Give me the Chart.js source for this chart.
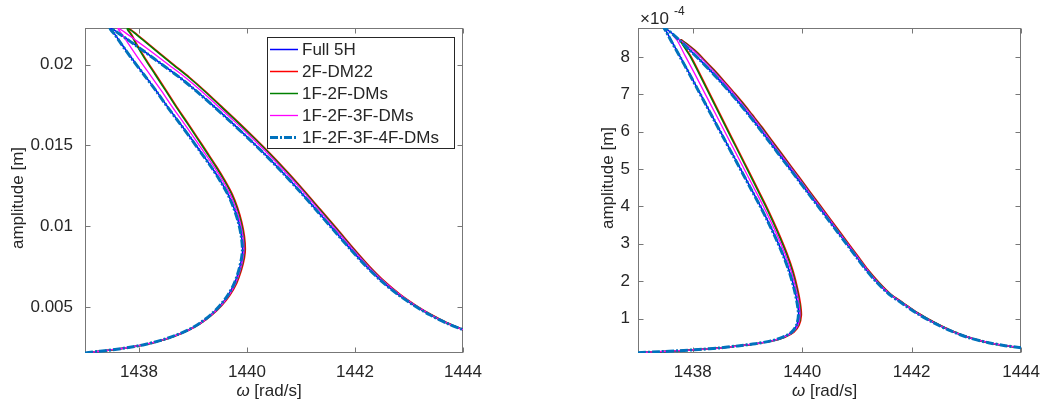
<!DOCTYPE html>
<html>
<head>
<meta charset="utf-8">
<script src="https://cdn.jsdelivr.net/npm/chart.js@4"></script>
<style>
  body { margin: 0; background: #fff; }
  #wrap { position: relative; width: 1049px; height: 407px; overflow: hidden; }
  canvas { position: absolute; top: 0; }
  #left { left: 0; }
  #right { left: 520px; }
</style>
</head>
<body>
<div id="wrap">
  <canvas id="left" width="500" height="407"></canvas>
  <canvas id="right" width="529" height="407"></canvas>
</div>
<script>
const seriesNames = ['Full 5H', '2F-DM22', '1F-2F-DMs', '1F-2F-3F-DMs', '1F-2F-3F-4F-DMs']

// left panel, amplitude in m (same amplitude levels for every series)
// order: lower branch -> turning point -> middle branch -> peak -> upper branch
const ampLeft = [0.002164, 0.002269, 0.002380, 0.002515, 0.002688, 0.002922, 0.003231, 0.003570, 0.004001, 0.004525,
  0.005080, 0.005727, 0.006467, 0.007269, 0.008039, 0.008594,
  0.009396, 0.010259, 0.011122, 0.011985, 0.012848, 0.013711, 0.014575, 0.015438, 0.016363, 0.017349,
  0.018397, 0.019383, 0.020370, 0.021233, 0.021850, 0.022158, 0.022250,
  0.021973, 0.021449, 0.020740, 0.019969, 0.019199, 0.018335, 0.017411, 0.016455, 0.015469, 0.014451,
  0.013372, 0.012232, 0.011030, 0.009827, 0.008625, 0.007546, 0.006591, 0.005789, 0.005111, 0.004525,
  0.004032, 0.003600]
const wLeftFull = [1437.000, 1437.278, 1437.556, 1437.833, 1438.111, 1438.389, 1438.667, 1438.907, 1439.130, 1439.333,
  1439.500, 1439.648, 1439.769, 1439.852, 1439.904, 1439.920,
  1439.898, 1439.843, 1439.759, 1439.648, 1439.500, 1439.333, 1439.148, 1438.963, 1438.759, 1438.537,
  1438.315, 1438.093, 1437.870, 1437.685, 1437.556, 1437.481, 1437.472,
  1437.611, 1437.833, 1438.130, 1438.444, 1438.759, 1439.074, 1439.389, 1439.704, 1440.019, 1440.333,
  1440.648, 1440.963, 1441.278, 1441.593, 1441.907, 1442.204, 1442.500, 1442.796, 1443.093, 1443.389,
  1443.685, 1444.000]
const wLeftDM22 = [1437.000, 1437.278, 1437.556, 1437.838, 1438.121, 1438.399, 1438.682, 1438.927, 1439.150, 1439.358,
  1439.530, 1439.683, 1439.809, 1439.897, 1439.954, 1439.970,
  1439.953, 1439.903, 1439.829, 1439.728, 1439.590, 1439.433, 1439.263, 1439.093, 1438.909, 1438.707,
  1438.505, 1438.313, 1438.120, 1437.965, 1437.866, 1437.801, 1437.802,
  1437.921, 1438.113, 1438.370, 1438.654, 1438.939, 1439.234, 1439.529, 1439.834, 1440.139, 1440.443,
  1440.748, 1441.053, 1441.363, 1441.673, 1441.977, 1442.264, 1442.550, 1442.836, 1443.128, 1443.419,
  1443.705, 1444.000]
const wLeft12 = [1437.000, 1437.278, 1437.556, 1437.836, 1438.116, 1438.394, 1438.675, 1438.917, 1439.140, 1439.346,
  1439.515, 1439.668, 1439.794, 1439.882, 1439.939, 1439.955,
  1439.938, 1439.888, 1439.814, 1439.713, 1439.575, 1439.418, 1439.248, 1439.078, 1438.894, 1438.692,
  1438.490, 1438.298, 1438.105, 1437.950, 1437.851, 1437.786, 1437.787,
  1437.906, 1438.098, 1438.355, 1438.639, 1438.924, 1439.219, 1439.514, 1439.819, 1440.124, 1440.428,
  1440.733, 1441.038, 1441.348, 1441.658, 1441.962, 1442.249, 1442.535, 1442.821, 1443.113, 1443.404,
  1443.695, 1444.000]
const wLeft123 = [1437.000, 1437.278, 1437.556, 1437.835, 1438.116, 1438.394, 1438.675, 1438.917, 1439.140, 1439.345,
  1439.515, 1439.666, 1439.789, 1439.874, 1439.929, 1439.945,
  1439.926, 1439.873, 1439.794, 1439.688, 1439.545, 1439.383, 1439.206, 1439.028, 1438.834, 1438.622,
  1438.410, 1438.203, 1437.990, 1437.815, 1437.691, 1437.621, 1437.612,
  1437.746, 1437.963, 1438.250, 1438.554, 1438.859, 1439.164, 1439.469, 1439.779, 1440.089, 1440.398,
  1440.708, 1441.018, 1441.328, 1441.638, 1441.947, 1442.239, 1442.530, 1442.821, 1443.113, 1443.404,
  1443.695, 1444.000]
const wLeft1234 = [1437.000, 1437.278, 1437.556, 1437.833, 1438.110, 1438.387, 1438.664, 1438.903, 1439.126, 1439.328,
  1439.495, 1439.643, 1439.764, 1439.847, 1439.899, 1439.915,
  1439.893, 1439.838, 1439.754, 1439.643, 1439.495, 1439.328, 1439.143, 1438.958, 1438.754, 1438.532,
  1438.310, 1438.088, 1437.865, 1437.680, 1437.551, 1437.476, 1437.467,
  1437.606, 1437.828, 1438.125, 1438.439, 1438.754, 1439.069, 1439.384, 1439.699, 1440.014, 1440.328,
  1440.643, 1440.958, 1441.273, 1441.588, 1441.902, 1442.199, 1442.495, 1442.791, 1443.088, 1443.384,
  1443.680, 1444.000]

// right panel, amplitude in units of 1e-4 m
const ampRightFull = [0.087, 0.113, 0.140, 0.172, 0.217, 0.268, 0.327, 0.402, 0.501, 0.634, 0.821, 1.088,
  1.409, 1.810, 2.264, 2.718, 3.172, 3.613, 4.054, 4.495, 4.936, 5.376, 5.817, 6.258, 6.699, 7.140, 7.581,
  8.008, 8.435, 8.703, 8.775, 8.649, 8.435,
  8.182, 7.928, 7.661, 7.380, 7.086, 6.779, 6.458, 6.125, 5.777, 5.430, 5.083, 4.735, 4.388, 4.041, 3.693,
  3.346, 2.999, 2.651, 2.304, 1.970, 1.663, 1.422, 1.155, 0.901, 0.674, 0.487, 0.354, 0.274, 0.220]
const wRightFull = [1437.000, 1437.394, 1437.752, 1438.110, 1438.522, 1438.826, 1439.148, 1439.435, 1439.650, 1439.811,
  1439.900, 1439.936,
  1439.913, 1439.855, 1439.766, 1439.650, 1439.515, 1439.372, 1439.220, 1439.059, 1438.898, 1438.737, 1438.575,
  1438.414, 1438.253, 1438.092, 1437.931, 1437.770, 1437.609, 1437.510, 1437.483, 1437.609, 1437.770,
  1437.949, 1438.128, 1438.307, 1438.486, 1438.665, 1438.844, 1439.023, 1439.202, 1439.381, 1439.560, 1439.739,
  1439.918, 1440.097, 1440.276, 1440.455, 1440.634, 1440.813, 1440.992, 1441.171, 1441.368, 1441.583, 1441.816,
  1442.084, 1442.389, 1442.711, 1443.051, 1443.409, 1443.713, 1444.000]
const ampRightDM22 = [0.087, 0.113, 0.140, 0.172, 0.217, 0.268, 0.327, 0.402, 0.501, 0.634, 0.821, 1.088,
  1.409, 1.810, 2.264, 2.718, 3.172, 3.613, 4.054, 4.495, 4.936, 5.376, 5.817, 6.258, 6.699, 7.140, 7.581,
  8.008, 8.460,
  8.182, 7.928, 7.661, 7.380, 7.086, 6.779, 6.458, 6.125, 5.777, 5.430, 5.083, 4.735, 4.388, 4.041, 3.693,
  3.346, 2.999, 2.651, 2.304, 1.970, 1.663, 1.422, 1.155, 0.901, 0.674, 0.487, 0.354, 0.274, 0.220]
const wRightDM22 = [1437.000, 1437.394, 1437.757, 1438.120, 1438.537, 1438.846, 1439.173, 1439.465, 1439.685, 1439.851,
  1439.945, 1439.986,
  1439.968, 1439.915, 1439.836, 1439.730, 1439.605, 1439.472, 1439.330, 1439.179, 1439.028, 1438.877, 1438.725,
  1438.574, 1438.423, 1438.272, 1438.121, 1437.970, 1437.780,
  1438.039, 1438.213, 1438.387, 1438.561, 1438.735, 1438.914, 1439.088, 1439.267, 1439.441, 1439.620, 1439.794,
  1439.973, 1440.147, 1440.326, 1440.500, 1440.679, 1440.853, 1441.032, 1441.206, 1441.403, 1441.613, 1441.846,
  1442.109, 1442.414, 1442.731, 1443.071, 1443.424, 1443.723, 1444.000]
const wRight12 = [1437.000, 1437.394, 1437.755, 1438.115, 1438.530, 1438.838, 1439.163, 1439.453, 1439.672, 1439.836,
  1439.930, 1439.971,
  1439.953, 1439.900, 1439.821, 1439.715, 1439.590, 1439.457, 1439.315, 1439.164, 1439.013, 1438.862, 1438.710,
  1438.559, 1438.408, 1438.257, 1438.106, 1437.955, 1437.770,
  1438.024, 1438.198, 1438.372, 1438.546, 1438.720, 1438.899, 1439.073, 1439.252, 1439.426, 1439.605, 1439.779,
  1439.958, 1440.132, 1440.311, 1440.485, 1440.664, 1440.838, 1441.017, 1441.193, 1441.391, 1441.603, 1441.836,
  1442.101, 1442.406, 1442.724, 1443.064, 1443.418, 1443.719, 1444.000]
const ampRight123 = [0.087, 0.113, 0.140, 0.172, 0.217, 0.268, 0.327, 0.402, 0.501, 0.634, 0.821, 1.088,
  1.409, 1.810, 2.264, 2.718, 3.172, 3.613, 4.054, 4.495, 4.936, 5.376, 5.817, 6.258, 6.699, 7.140, 7.581,
  8.008, 8.435, 8.580,
  8.182, 7.928, 7.661, 7.380, 7.086, 6.779, 6.458, 6.125, 5.777, 5.430, 5.083, 4.735, 4.388, 4.041, 3.693,
  3.346, 2.999, 2.651, 2.304, 1.970, 1.663, 1.422, 1.155, 0.901, 0.674, 0.487, 0.354, 0.274, 0.220]
const wRight123 = [1437.000, 1437.394, 1437.755, 1438.115, 1438.530, 1438.836, 1439.161, 1439.450, 1439.668, 1439.831,
  1439.923, 1439.961,
  1439.941, 1439.885, 1439.801, 1439.690, 1439.560, 1439.422, 1439.275, 1439.119, 1438.963, 1438.807, 1438.650,
  1438.494, 1438.338, 1438.182, 1438.026, 1437.870, 1437.719, 1437.640,
  1438.009, 1438.183, 1438.357, 1438.531, 1438.710, 1438.884, 1439.063, 1439.237, 1439.416, 1439.590, 1439.769,
  1439.948, 1440.122, 1440.301, 1440.480, 1440.654, 1440.833, 1441.012, 1441.191, 1441.383, 1441.598, 1441.831,
  1442.094, 1442.399, 1442.721, 1443.061, 1443.414, 1443.718, 1444.000]
const wRight1234 = [1437.000, 1437.394, 1437.750, 1438.107, 1438.518, 1438.822, 1439.144, 1439.431, 1439.646, 1439.806,
  1439.895, 1439.931,
  1439.908, 1439.850, 1439.761, 1439.645, 1439.510, 1439.367, 1439.215, 1439.054, 1438.893, 1438.732, 1438.570,
  1438.409, 1438.248, 1438.087, 1437.926, 1437.765, 1437.604, 1437.505, 1437.478, 1437.604, 1437.765,
  1437.944, 1438.123, 1438.302, 1438.481, 1438.660, 1438.839, 1439.018, 1439.197, 1439.376, 1439.555, 1439.734,
  1439.913, 1440.092, 1440.271, 1440.450, 1440.629, 1440.808, 1440.987, 1441.166, 1441.363, 1441.578, 1441.811,
  1442.079, 1442.384, 1442.706, 1443.046, 1443.404, 1443.708, 1444.000]

// axes
const xTicks = [1438, 1440, 1442, 1444]
const xTickLabels = ['1438', '1440', '1442', '1444']
const yTicksLeft = [0.005, 0.01, 0.015, 0.02]
const yTickLabelsLeft = ['0.005', '0.01', '0.015', '0.02']
const yTicksRight = [1, 2, 3, 4, 5, 6, 7, 8]
const yTickLabelsRight = ['1', '2', '3', '4', '5', '6', '7', '8']

const FONT = '"Liberation Sans", Arial, Helvetica, sans-serif'
const TXT = '#262626'
const styles = [
  { color: '#0000ff', width: 1.5, dash: [], order: 5 },
  { color: '#ff0000', width: 1.5, dash: [], order: 4 },
  { color: '#008000', width: 1.5, dash: [], order: 3 },
  { color: '#ff00ff', width: 1.3, dash: [], order: 2 },
  { color: '#0072bd', width: 3, dash: [8, 2, 2, 2], order: 1 }
]

function pts(ws, as) {
  return ws.map(function(w, i) { return { x: w, y: as[i] } })
}

// box, inward ticks, axis titles, legend, exponent
function framePlugin(p) {
  return {
    id: 'frame',
    beforeDatasetsDraw: function(chart) {
      var c = chart.ctx, a = chart.chartArea
      var xs = chart.scales.x, ys = chart.scales.y
      var L = Math.round(a.left) + 0.5, R = Math.round(a.right) - 0.5
      var T = Math.round(a.top) + 0.5, B = Math.round(a.bottom) - 0.5
      c.save()
      c.strokeStyle = '#777'
      c.lineWidth = 1
      c.strokeRect(L, T, R - L, B - T)
      c.beginPath()
      xTicks.forEach(function(v) {
        var x = Math.round(xs.getPixelForValue(v)) + 0.5
        c.moveTo(x, B); c.lineTo(x, B - 5)
        c.moveTo(x, T); c.lineTo(x, T + 5)
      })
      p.yTicks.forEach(function(v) {
        var y = Math.round(ys.getPixelForValue(v)) + 0.5
        c.moveTo(L, y); c.lineTo(L + 5, y)
        c.moveTo(R, y); c.lineTo(R - 5, y)
      })
      c.stroke()
      c.restore()
    },
    afterDatasetsDraw: function(chart) {
      var c = chart.ctx, a = chart.chartArea
      c.save()
      c.fillStyle = TXT
      // y title
      c.save()
      c.translate(p.yTitleX, p.yTitleY)
      c.rotate(-Math.PI / 2)
      c.font = '17px ' + FONT
      c.textAlign = 'center'
      c.textBaseline = 'middle'
      c.fillText('amplitude [m]', 0, 0)
      c.restore()
      // x title with italic omega
      c.textBaseline = 'alphabetic'
      c.textAlign = 'left'
      c.font = 'italic 17px ' + FONT
      var w1 = c.measureText('ω').width
      c.font = '17px ' + FONT
      var w2 = c.measureText(' [rad/s]').width
      var x0 = (a.left + a.right) / 2 - 5 - (w1 + w2) / 2
      c.font = 'italic 17px ' + FONT
      c.fillText('ω', x0, 396)
      c.font = '17px ' + FONT
      c.fillText(' [rad/s]', x0 + w1, 396)
      if (p.exponent) {
        c.font = '17px ' + FONT
        c.fillText('×10', a.left + 2, 24)
        c.font = '12px ' + FONT
        c.fillText('-4', a.left + 36, 15)
      }
      if (p.legend) drawLegend(c)
      c.restore()
    }
  }
}

function drawLegend(c) {
  c.fillStyle = '#fff'
  c.fillRect(267, 37, 187, 111)
  c.strokeStyle = '#262626'
  c.lineWidth = 1
  c.setLineDash([])
  c.strokeRect(267.5, 37.5, 187, 111)
  c.font = '17px ' + FONT
  c.textAlign = 'left'
  c.textBaseline = 'middle'
  seriesNames.forEach(function(name, i) {
    var y = 49.5 + 22 * i
    c.beginPath()
    c.strokeStyle = styles[i].color
    c.lineWidth = styles[i].width
    c.setLineDash(styles[i].dash)
    c.moveTo(270, y); c.lineTo(298, y)
    c.stroke()
    c.setLineDash([])
    c.fillStyle = TXT
    c.fillText(name, 302, y + 1)
  })
}

function makeChart(id, series, p) {
  var ctx = document.getElementById(id).getContext('2d')
  return new Chart(ctx, {
    type: 'scatter',
    data: {
      datasets: series.map(function(s, i) {
        return {
          label: seriesNames[i],
          data: s,
          showLine: true,
          borderColor: styles[i].color,
          backgroundColor: styles[i].color,
          borderWidth: styles[i].width,
          borderDash: styles[i].dash,
          borderJoinStyle: 'round',
          pointRadius: 0,
          tension: 0.3,
          order: styles[i].order
        }
      })
    },
    options: {
      responsive: false,
      animation: false,
      events: [],
      layout: { padding: { top: 28, right: p.padRight, left: 0, bottom: 0 } },
      plugins: { legend: { display: false }, tooltip: { enabled: false } },
      scales: {
        x: {
          type: 'linear', min: 1437, max: 1444,
          afterFit: function(s) { s.height = 54 },
          afterBuildTicks: function(s) { s.ticks = xTicks.map(function(v) { return { value: v } }) },
          ticks: {
            autoSkip: false, maxRotation: 0, padding: 9, color: TXT,
            font: { family: FONT, size: 17 },
            callback: function(v, i) { return xTickLabels[i] }
          },
          grid: { display: false, drawTicks: false },
          border: { display: false }
        },
        y: {
          type: 'linear', min: p.yMin, max: p.yMax,
          afterFit: function(s) { s.width = p.yWidth },
          afterBuildTicks: function(s) { s.ticks = p.yTicks.map(function(v) { return { value: v } }) },
          ticks: {
            autoSkip: false, padding: p.yPad, color: TXT,
            font: { family: FONT, size: 17 },
            callback: function(v, i) { return p.yLabels[i] }
          },
          grid: { display: false, drawTicks: false },
          border: { display: false }
        }
      }
    },
    plugins: [framePlugin(p)]
  })
}

makeChart('left', [
  pts(wLeftFull, ampLeft), pts(wLeftDM22, ampLeft), pts(wLeft12, ampLeft),
  pts(wLeft123, ampLeft), pts(wLeft1234, ampLeft)
], {
  yMin: 0.00216, yMax: 0.02226, yTicks: yTicksLeft, yLabels: yTickLabelsLeft,
  yWidth: 85, yPad: 12, padRight: 37, yTitleX: 18, yTitleY: 198, legend: true
})

makeChart('right', [
  pts(wRightFull, ampRightFull), pts(wRightDM22, ampRightDM22), pts(wRight12, ampRightDM22),
  pts(wRight123, ampRight123), pts(wRight1234, ampRightFull)
], {
  yMin: 0.078, yMax: 8.775, yTicks: yTicksRight, yLabels: yTickLabelsRight,
  yWidth: 118, yPad: 8, padRight: 20, yTitleX: 88, yTitleY: 178, exponent: true
})
</script>
</body>
</html>
